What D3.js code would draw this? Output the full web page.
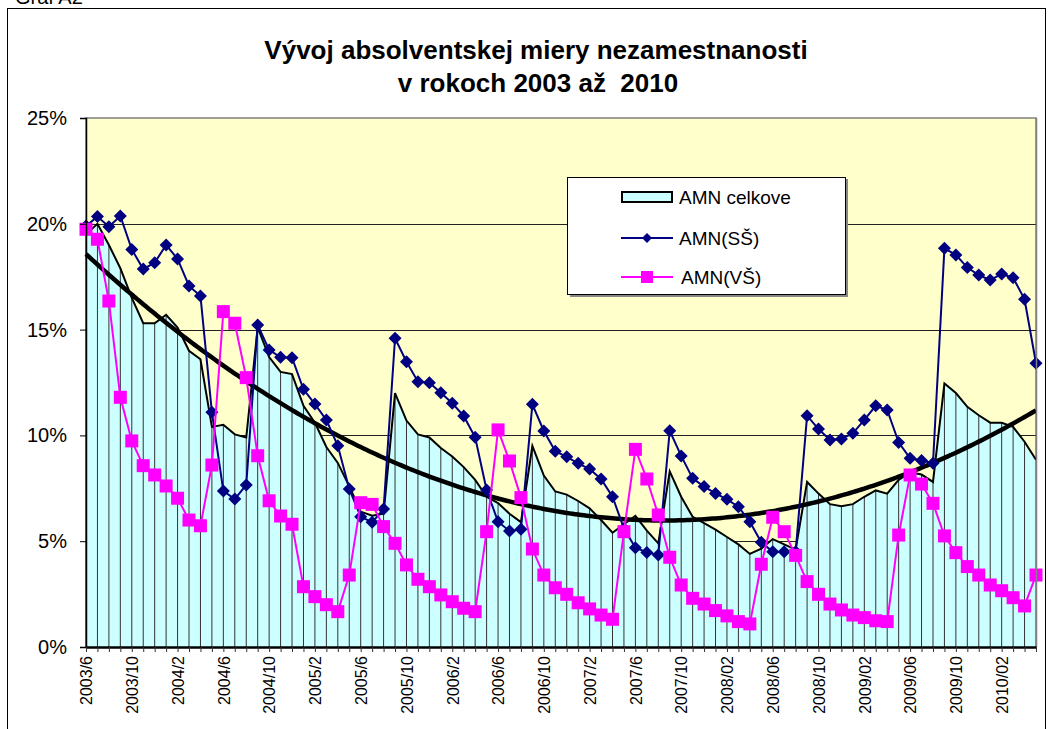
<!DOCTYPE html>
<html><head><meta charset="utf-8">
<script src="https://cdn.jsdelivr.net/npm/d3@7"></script>
<style>
body{margin:0;background:#fff}
svg{display:block}
text{font-family:Arial,"Liberation Sans",sans-serif}
</style>
</head><body><svg id="c" width="1048" height="729"></svg>
<script>
const categories = [
"2003/6","2003/7","2003/8","2003/9","2003/10","2003/11","2003/12",
"2004/1","2004/2","2004/3","2004/4","2004/5","2004/6","2004/7","2004/8","2004/9","2004/10","2004/11","2004/12",
"2005/1","2005/2","2005/3","2005/4","2005/5","2005/6","2005/7","2005/8","2005/9","2005/10","2005/11","2005/12",
"2006/1","2006/2","2006/3","2006/4","2006/5","2006/6","2006/7","2006/8","2006/9","2006/10","2006/11","2006/12",
"2007/1","2007/2","2007/3","2007/4","2007/5","2007/6","2007/7","2007/8","2007/9","2007/10","2007/11","2007/12",
"2008/01","2008/02","2008/03","2008/04","2008/05","2008/06","2008/07","2008/08","2008/09","2008/10","2008/11","2008/12",
"2009/01","2009/02","2009/03","2009/04","2009/05","2009/06","2009/07","2009/08","2009/09","2009/10","2009/11","2009/12",
"2010/01","2010/02","2010/03","2010/04","2010/05"];

const amnCelkove = [19.5,20.0,19.0,17.9,16.5,15.3,15.3,15.7,15.1,14.0,
13.6,10.4,10.5,10.05,9.9,15.1,13.7,13.0,12.9,11.4,
10.6,9.45,8.7,7.6,6.4,6.2,6.3,12.0,10.7,10.05,
9.9,9.4,9.0,8.5,7.9,7.1,6.8,6.3,5.9,9.5,
8.1,7.35,7.2,6.9,6.55,6.0,5.4,5.8,6.2,5.5,
4.9,8.3,7.1,6.15,5.85,5.55,5.2,4.85,4.4,4.65,
5.1,4.85,4.6,7.8,7.25,6.75,6.65,6.75,7.1,7.4,
7.25,7.9,8.25,8.15,7.8,12.45,12.0,11.35,10.95,10.6,
10.6,10.4,9.7,8.85];

const amnSS = [19.9,20.34,19.86,20.37,18.79,17.86,18.16,19.0,18.34,17.06,
16.59,11.09,7.37,6.99,7.66,15.22,14.04,13.69,13.67,12.18,
11.48,10.73,9.51,7.47,6.16,5.89,6.52,14.59,13.48,12.54,
12.49,12.02,11.52,10.92,9.91,7.42,5.92,5.48,5.56,11.47,
10.21,9.25,8.99,8.68,8.41,7.94,7.10,5.6,4.69,4.47,
4.35,10.22,9.03,7.97,7.58,7.26,6.98,6.63,5.92,4.95,
4.50,4.50,4.5,10.93,10.30,9.78,9.83,10.10,10.73,11.40,
11.20,9.67,8.92,8.81,8.68,18.84,18.53,17.93,17.58,17.34,
17.63,17.45,16.43,13.41];

const amnVS = [19.74,19.27,16.35,11.80,9.74,8.57,8.13,7.61,7.03,6.00,
5.73,8.60,15.85,15.30,12.73,9.04,6.91,6.19,5.80,2.85,
2.38,2.0,1.67,3.40,6.82,6.74,5.69,4.90,3.88,3.20,
2.85,2.46,2.14,1.83,1.67,5.45,10.26,8.79,7.06,4.63,
3.40,2.80,2.49,2.09,1.80,1.51,1.31,5.45,9.34,7.94,
6.24,4.24,2.93,2.30,2.03,1.72,1.47,1.20,1.09,3.91,
6.13,5.45,4.33,3.09,2.49,2.03,1.75,1.51,1.39,1.24,
1.20,5.29,8.13,7.70,6.79,5.25,4.46,3.80,3.40,2.93,
2.66,2.33,1.94,3.40];

const yTicks = [0,5,10,15,20,25];
const titleLines = ["Vývoj absolventskej miery nezamestnanosti","v rokoch 2003 až  2010"];
const seriesNames = ["AMN celkove","AMN(SŠ)","AMN(VŠ)"];
const chartCaption = "Graf A2";

const svg = d3.select("#c");
const plot = {left:86, right:1036, top:118, bottom:647};
const x = d3.scalePoint().domain(categories).range([plot.left, plot.right]);
const y = d3.scaleLinear().domain([0,25]).range([plot.bottom, plot.top]);

svg.append("rect").attr("width",1048).attr("height",729).attr("fill","#fff");
// outer frame
svg.append("rect").attr("x",7.5).attr("y",8.5).attr("width",1038).attr("height",760)
  .attr("fill","none").attr("stroke","#000").attr("stroke-width",1);
svg.append("text").attr("x",15).attr("y",4).attr("font-size",20).attr("fill","#000").text(chartCaption);

// title
svg.append("text").attr("x",536).attr("y",59).attr("text-anchor","middle")
  .attr("font-size",26).attr("font-weight","bold").style("white-space","pre").text(titleLines[0]);
svg.append("text").attr("x",538).attr("y",92).attr("text-anchor","middle")
  .attr("font-size",26).attr("font-weight","bold").style("white-space","pre").text(titleLines[1]);

// plot bg
svg.append("rect").attr("x",plot.left).attr("y",plot.top)
  .attr("width",plot.right-plot.left).attr("height",plot.bottom-plot.top)
  .attr("fill","#FFFFCC").attr("stroke","#808080").attr("stroke-width",1.5);

// gridlines
svg.append("g").selectAll("line").data(yTicks.filter(d=>d>0&&d<25)).join("line")
  .attr("x1",plot.left).attr("x2",plot.right)
  .attr("y1",d=>Math.round(y(d))+0.5).attr("y2",d=>Math.round(y(d))+0.5)
  .attr("stroke","#222").attr("stroke-width",1);

// area
const area = d3.area().x((d,i)=>x(categories[i])).y0(y(0)).y1(d=>y(d));
svg.append("path").datum(amnCelkove).attr("d",area).attr("fill","#CCFFFF");
svg.append("g").selectAll("line").data(amnCelkove).join("line")
  .attr("x1",(d,i)=>x(categories[i])).attr("x2",(d,i)=>x(categories[i]))
  .attr("y1",d=>y(d)).attr("y2",y(0))
  .attr("stroke","#333").attr("stroke-width",1);
svg.append("path").datum(amnCelkove)
  .attr("d",d3.line().x((d,i)=>x(categories[i])).y(d=>y(d)))
  .attr("fill","none").attr("stroke","#000").attr("stroke-width",2).attr("stroke-linejoin","miter");

// polynomial (order 2) trendline from the area series, least squares
function polyFit2(vals){
  let S=[0,0,0,0,0], T=[0,0,0];
  vals.forEach((v,i)=>{const t=i+1; let p=1; for(let k=0;k<5;k++){S[k]+=p; if(k<3) T[k]+=v*p; p*=t;}});
  const A=[[S[0],S[1],S[2],T[0]],[S[1],S[2],S[3],T[1]],[S[2],S[3],S[4],T[2]]];
  for(let c=0;c<3;c++){
    for(let r=c+1;r<3;r++){const f=A[r][c]/A[c][c]; for(let k=c;k<4;k++) A[r][k]-=f*A[c][k];}
  }
  const s=[0,0,0];
  for(let r=2;r>=0;r--){let v=A[r][3]; for(let k=r+1;k<3;k++) v-=A[r][k]*s[k]; s[r]=v/A[r][r];}
  return s;
}
const coef = polyFit2(amnCelkove);
const xi = d3.scaleLinear().domain([0,categories.length-1]).range([plot.left,plot.right]);
const trendPts = d3.range(0,categories.length-1+0.001,0.25).map(u=>{const t=u+1; return [xi(u), y(coef[0]+coef[1]*t+coef[2]*t*t)];});
svg.append("path").attr("d",d3.line()(trendPts)).attr("fill","none")
  .attr("stroke","#000").attr("stroke-width",4.5);

// SŠ line
const diamond = "M0,-6.5L6.5,0L0,6.5L-6.5,0Z";
svg.append("path").datum(amnSS)
  .attr("d",d3.line().x((d,i)=>x(categories[i])).y(d=>y(d)))
  .attr("fill","none").attr("stroke","#000080").attr("stroke-width",2);
svg.append("g").selectAll("path").data(amnSS).join("path")
  .attr("d",diamond).attr("transform",(d,i)=>`translate(${x(categories[i])},${y(d)})`)
  .attr("fill","#000080");

// VŠ line
svg.append("path").datum(amnVS)
  .attr("d",d3.line().x((d,i)=>x(categories[i])).y(d=>y(d)))
  .attr("fill","none").attr("stroke","#FF00FF").attr("stroke-width",2);
svg.append("g").selectAll("rect").data(amnVS).join("rect")
  .attr("x",(d,i)=>x(categories[i])-6.5).attr("y",d=>y(d)-6.5)
  .attr("width",13).attr("height",13).attr("fill","#FF00FF");

// right border over everything
svg.append("line").attr("x1",plot.right+0.5).attr("x2",plot.right+0.5).attr("y1",plot.top).attr("y2",plot.bottom)
  .attr("stroke","#808080").attr("stroke-width",1.5);

// y axis
const yAxis = svg.append("g").attr("transform",`translate(${plot.left},0)`)
  .call(d3.axisLeft(y).tickValues(yTicks).tickFormat(d=>d+"%").tickSize(6).tickPadding(13));
yAxis.select(".domain").attr("stroke","#000").attr("stroke-width",1.5);
yAxis.selectAll(".tick line").attr("stroke","#000");
yAxis.selectAll("text").attr("font-size",20).attr("font-family","Arial, 'Liberation Sans', sans-serif").attr("fill","#000");

// x axis
const xAxis = svg.append("g").attr("transform",`translate(0,${plot.bottom})`)
  .call(d3.axisBottom(x).tickSize(5).tickSizeOuter(0).tickFormat((d,i)=> i%4===0 ? d : ""));
xAxis.select(".domain").attr("stroke","#000").attr("stroke-width",2.5);
xAxis.selectAll(".tick line").attr("stroke","#333");
xAxis.selectAll("text").attr("font-size",16).attr("font-family","Arial, 'Liberation Sans', sans-serif")
  .attr("fill","#000").attr("transform","rotate(-90)").attr("text-anchor","end")
  .attr("x",-9).attr("y",0).attr("dy","0.36em");

// legend
const lg = svg.append("g");
lg.append("rect").attr("x",570).attr("y",179).attr("width",278).attr("height",118).attr("fill","#888");
lg.append("rect").attr("x",567.5).attr("y",177.5).attr("width",278).attr("height",117)
  .attr("fill","#fff").attr("stroke","#000").attr("stroke-width",1);
lg.append("rect").attr("x",622).attr("y",192).attr("width",50).attr("height",10)
  .attr("fill","#CCFFFF").attr("stroke","#000").attr("stroke-width",2);
lg.append("line").attr("x1",621).attr("x2",673).attr("y1",238).attr("y2",238).attr("stroke","#000080").attr("stroke-width",2);
lg.append("path").attr("d","M0,-5L5,0L0,5L-5,0Z").attr("transform","translate(647,238)").attr("fill","#000080");
lg.append("line").attr("x1",621).attr("x2",673).attr("y1",277).attr("y2",277).attr("stroke","#FF00FF").attr("stroke-width",2);
lg.append("rect").attr("x",641).attr("y",271).attr("width",12).attr("height",12).attr("fill","#FF00FF");
const legY=[197,238,277];
lg.selectAll("text.l").data(seriesNames).join("text").attr("class","l")
  .attr("x",(d,i)=> i===2?681:679).attr("y",(d,i)=>legY[i]).attr("dy","0.35em")
  .attr("font-size",19).attr("fill","#000").text(d=>d);
</script>
</body></html>
